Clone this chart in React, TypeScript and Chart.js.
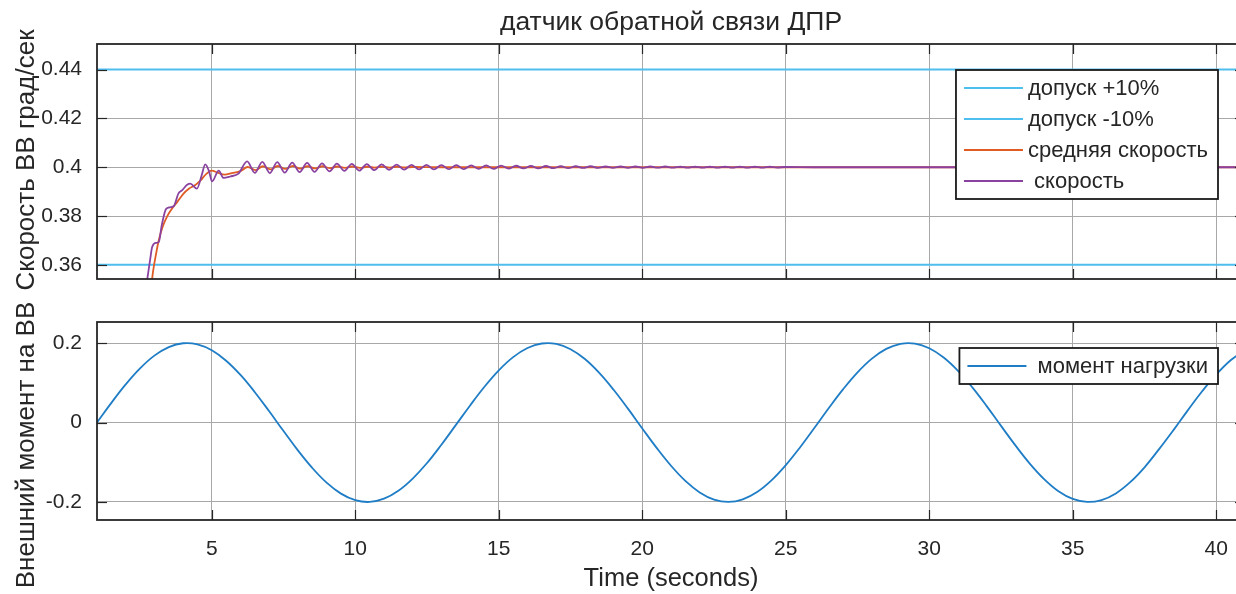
import React, { useEffect, useRef } from 'react';
import { Chart, registerables } from 'chart.js';

Chart.register(...registerables);

// ---------- text ----------
const TITLE = 'датчик обратной связи ДПР';
const Y_TITLE_TOP = 'Скорость ВВ град/сек';
const Y_TITLE_BOTTOM = 'Внешний момент на ВВ';
const X_TITLE = 'Time (seconds)';

// ---------- ticks ----------
const X_TICKS = [5, 10, 15, 20, 25, 30, 35, 40];
const Y_TICKS_TOP = [0.36, 0.38, 0.4, 0.42, 0.44];
const Y_TICKS_BOTTOM = [-0.2, 0, 0.2];

// ---------- tolerance lines ----------
const TOL_TIME = [1, 41];
const TOL_UPPER = [0.44, 0.44];
const TOL_LOWER = [0.36, 0.36];

// ---------- speed (скорость) ----------
const SPEED_TIME = [
  2.7, 2.85, 2.92, 3.05, 3.15, 3.26, 3.4, 3.5, 3.67, 3.84, 3.96, 4.14, 4.25, 4.48, 4.65, 4.77, 4.9, 5.01,
  5.24, 5.41, 5.64, 5.93, 6.23, 6.5, 6.76, 7.02, 7.28, 7.54, 7.8, 8.06, 8.32, 8.58, 8.84, 9.1, 9.36, 9.62,
  9.88, 10.14, 10.4, 10.66, 10.92, 11.18, 11.44, 11.7, 11.96, 12.22, 12.48, 12.74, 13.0, 13.26, 13.52,
  13.78, 14.04, 14.3, 14.56, 14.82, 15.08, 15.34, 15.6, 15.86, 16.12, 16.38, 16.64, 16.9, 17.16, 17.42,
  17.68, 17.94, 18.2, 18.46, 18.72, 18.98, 19.24, 19.5, 19.76, 20.02, 20.28, 20.54, 20.8, 21.06, 21.32,
  21.58, 21.84, 22.1, 22.36, 22.62, 22.88, 23.14, 23.4, 23.66, 23.92, 24.18, 24.44, 24.7, 24.96, 26, 28,
  30, 32, 34, 36, 38, 41,
];
const SPEED = [
  0.35, 0.362, 0.3672, 0.369, 0.3693, 0.3765, 0.3828, 0.3835, 0.384, 0.3893, 0.3905, 0.3928, 0.3933,
  0.3912, 0.3968, 0.4012, 0.3985, 0.3942, 0.3986, 0.3956, 0.3962, 0.3974, 0.4024, 0.3977, 0.4022, 0.3976,
  0.4021, 0.3978, 0.4019, 0.398, 0.4018, 0.3981, 0.4016, 0.3983, 0.4015, 0.3985, 0.4014, 0.3986, 0.4013,
  0.3988, 0.4012, 0.3989, 0.4011, 0.399, 0.401, 0.3991, 0.401, 0.3991, 0.4009, 0.3992, 0.4009, 0.3992,
  0.4008, 0.3993, 0.4008, 0.3993, 0.4007, 0.3994, 0.4006, 0.3995, 0.4005, 0.3995, 0.4005, 0.3996, 0.4004,
  0.3996, 0.4004, 0.3997, 0.4004, 0.3997, 0.4003, 0.3997, 0.4003, 0.3997, 0.4003, 0.3997, 0.4003, 0.3998,
  0.4003, 0.3998, 0.4002, 0.3998, 0.4002, 0.3998, 0.4002, 0.3998, 0.4002, 0.3998, 0.4002, 0.3998, 0.4002,
  0.3998, 0.4002, 0.3999, 0.4001, 0.4, 0.4, 0.4, 0.4, 0.4, 0.4, 0.4, 0.4,
];

// ---------- average speed (средняя скорость) ----------
const AVG_TIME = [
  2.88, 2.95, 3.05, 3.15, 3.3, 3.45, 3.6, 3.8, 4.0, 4.2, 4.4, 4.6, 4.8, 5.0, 5.2, 5.45, 5.7, 6.0, 6.25,
  6.52, 6.78, 7.04, 7.3, 7.56, 7.82, 8.08, 8.34, 8.6, 8.86, 9.12, 9.38, 9.64, 9.9, 10.16, 10.42, 10.68,
  10.94, 11.2, 11.46, 11.72, 12.0, 13, 15, 20, 25, 30, 35, 41,
];
const AVG_SPEED = [
  0.35, 0.357, 0.364, 0.37, 0.376, 0.38, 0.3828, 0.3858, 0.389, 0.3912, 0.3925, 0.3945, 0.3972, 0.3986,
  0.3978, 0.397, 0.3976, 0.3984, 0.4001, 0.3988, 0.4004, 0.3991, 0.4005, 0.3993, 0.4005, 0.3994, 0.4004,
  0.3995, 0.4004, 0.3996, 0.4003, 0.3997, 0.4003, 0.3997, 0.4002, 0.3998, 0.4002, 0.3998, 0.4002, 0.3999,
  0.4001, 0.4, 0.4, 0.4, 0.4, 0.4, 0.4, 0.4,
];

// ---------- load moment (момент нагрузки) ----------
const MOMENT_TIME = [
  1, 1.5, 2, 2.5, 3, 3.5, 4, 4.5, 5, 5.5, 6, 6.5, 7, 7.5, 8, 8.5, 9, 9.5, 10, 10.5, 11, 11.5, 12, 12.5,
  13, 13.5, 14, 14.5, 15, 15.5, 16, 16.5, 17, 17.5, 18, 18.5, 19, 19.5, 20, 20.5, 21, 21.5, 22, 22.5, 23,
  23.5, 24, 24.5, 25, 25.5, 26, 26.5, 27, 27.5, 28, 28.5, 29, 29.5, 30, 30.5, 31, 31.5, 32, 32.5, 33, 33.5,
  34, 34.5, 35, 35.5, 36, 36.5, 37, 37.5, 38, 38.5, 39, 39.5, 40, 40.5, 41,
];
const MOMENT = [
  0, 0.0495, 0.0959, 0.1363, 0.1683, 0.1898, 0.1995, 0.1968, 0.1819, 0.1556, 0.1197, 0.0763, 0.0282,
  -0.0216, -0.0702, -0.1143, -0.1514, -0.179, -0.1955, -0.1999, -0.1918, -0.1718, -0.1411, -0.102,
  -0.0559, -0.0066, 0.043, 0.09, 0.1314, 0.1646, 0.1876, 0.1989, 0.1979, 0.1845, 0.1597, 0.1249, 0.0824,
  0.0349, -0.015, -0.0639, -0.1088, -0.147, -0.1759, -0.194, -0.2, -0.1935, -0.1751, -0.1457, -0.1073,
  -0.0622, -0.0132, 0.0366, 0.084, 0.1263, 0.1608, 0.1853, 0.1981, 0.1987, 0.187, 0.1636, 0.1301, 0.0885,
  0.0413, -0.0085, -0.0576, -0.1033, -0.1424, -0.1729, -0.1923, -0.1999, -0.1952, -0.1785, -0.1502,
  -0.1127, -0.0677, -0.0198, 0.03, 0.0779, 0.121, 0.1567, 0.1826,
];

// ---------- style ----------
const FONT = "'Liberation Sans', Arial, Helvetica, sans-serif";
const TEXT = '#262626';
const GRID = '#a8a8a8';
const C_TOL = '#4DBEEE';
const C_AVG = '#DF5C24';
const C_SPEED = '#8A42A0';
const C_MOMENT = '#1F7DC6';

const pts = (xs: number[], ys: number[]) => xs.map((x, i) => ({ x, y: ys[i] }));

const framePlugin = {
  id: 'frame',
  afterDatasetsDraw(chart: any, _args: any, opts: any) {
    const { ctx, chartArea: a, scales } = chart;
    ctx.save();
    ctx.strokeStyle = TEXT;
    ctx.lineWidth = 1.2;
    const seg = (x1: number, y1: number, x2: number, y2: number) => {
      ctx.beginPath();
      ctx.moveTo(x1, y1);
      ctx.lineTo(x2, y2);
      ctx.stroke();
    };
    X_TICKS.forEach((v) => {
      const x = Math.round(scales.x.getPixelForValue(v)) + 0.5;
      seg(x, a.bottom, x, a.bottom - 10);
      seg(x, a.top, x, a.top + 10);
    });
    (opts.yTicks as number[]).forEach((v) => {
      const y = Math.round(scales.y.getPixelForValue(v)) + 0.5;
      seg(a.left, y, a.left + 10, y);
      seg(a.right, y, a.right - 10, y);
    });
    ctx.lineWidth = 1.8;
    ctx.strokeRect(a.left, a.top, a.right - a.left, a.bottom - a.top);
    ctx.restore();
  },
  afterDraw(chart: any, _args: any, opts: any) {
    const { ctx, chartArea: a } = chart;
    ctx.save();
    ctx.fillStyle = TEXT;
    // title
    if (opts.title) {
      ctx.font = `26.5px ${FONT}`;
      ctx.textAlign = 'center';
      ctx.textBaseline = 'middle';
      ctx.fillText(opts.title, (a.left + a.right) / 2, 23);
    }
    if (opts.xTitle) {
      ctx.font = `25.5px ${FONT}`;
      ctx.textAlign = 'center';
      ctx.textBaseline = 'middle';
      ctx.fillText(opts.xTitle, (a.left + a.right) / 2, 579);
    }
    if (opts.yTitle) {
      ctx.save();
      ctx.font = `26px ${FONT}`;
      ctx.textAlign = 'center';
      ctx.textBaseline = 'middle';
      ctx.translate(27, opts.yTitleY);
      ctx.rotate(-Math.PI / 2);
      ctx.fillText(opts.yTitle, 0, 0);
      ctx.restore();
    }
    // legend
    const ds = chart.data.datasets;
    ctx.font = `22px ${FONT}`;
    let maxW = 0;
    ds.forEach((d: any) => {
      maxW = Math.max(maxW, ctx.measureText(d.label).width);
    });
    const lineLen = 59;
    const w = 8 + lineLen + 5 + maxW + 10;
    const h = 18 + (ds.length - 1) * 31 + 18;
    const right = a.right - 27;
    const left = right - w;
    const top = a.top + 26;
    ctx.fillStyle = '#ffffff';
    ctx.fillRect(left, top, w, h);
    ctx.strokeStyle = '#1a1a1a';
    ctx.lineWidth = 1.8;
    ctx.strokeRect(left, top, w, h);
    ds.forEach((d: any, i: number) => {
      const y = top + 18 + i * 31;
      ctx.strokeStyle = d.borderColor;
      ctx.lineWidth = 1.8;
      ctx.beginPath();
      ctx.moveTo(left + 8, y);
      ctx.lineTo(left + 8 + lineLen, y);
      ctx.stroke();
      ctx.fillStyle = TEXT;
      ctx.textAlign = 'left';
      ctx.textBaseline = 'middle';
      ctx.fillText(d.label, left + 8 + lineLen + 5, y + 1);
    });
    ctx.restore();
  },
};

const tickFont = { family: FONT, size: 21 };

function xScale(showLabels: boolean) {
  return {
    type: 'linear',
    min: 1,
    max: 41,
    afterBuildTicks: (s: any) => {
      s.ticks = X_TICKS.map((v) => ({ value: v }));
    },
    ticks: {
      display: showLabels,
      padding: 17,
      font: tickFont,
      color: TEXT,
      maxRotation: 0,
      autoSkip: false,
      callback: (v: any) => String(v),
    },
    grid: { color: GRID, drawTicks: false, lineWidth: 1 },
    border: { display: false },
    afterFit: (s: any) => {
      s.height = showLabels ? 74 : 0;
    },
  };
}

function yScale(min: number, max: number, ticks: number[]) {
  return {
    type: 'linear',
    min,
    max,
    afterBuildTicks: (s: any) => {
      s.ticks = ticks.map((v) => ({ value: v }));
    },
    ticks: {
      padding: 15,
      font: tickFont,
      color: TEXT,
      autoSkip: false,
      callback: (v: any) => String(v),
    },
    grid: { color: GRID, drawTicks: false, lineWidth: 1 },
    border: { display: false },
    afterFit: (s: any) => {
      s.width = 97;
    },
  };
}

export default function App() {
  const topRef = useRef<HTMLCanvasElement>(null);
  const botRef = useRef<HTMLCanvasElement>(null);

  useEffect(() => {
    const common = { pointRadius: 0, fill: false };
    const top = new Chart(topRef.current as HTMLCanvasElement, {
      type: 'line',
      data: {
        datasets: [
          { ...common, label: 'допуск +10%', data: pts(TOL_TIME, TOL_UPPER), borderColor: C_TOL, borderWidth: 2, order: 4 },
          { ...common, label: 'допуск -10%', data: pts(TOL_TIME, TOL_LOWER), borderColor: C_TOL, borderWidth: 2, order: 3 },
          { ...common, label: 'средняя скорость', data: pts(AVG_TIME, AVG_SPEED), borderColor: C_AVG, borderWidth: 1.8, cubicInterpolationMode: 'monotone', order: 2 },
          { ...common, label: ' скорость', data: pts(SPEED_TIME, SPEED), borderColor: C_SPEED, borderWidth: 1.8, cubicInterpolationMode: 'monotone', order: 1 },
        ],
      } as any,
      options: {
        animation: false,
        responsive: false,
        events: [],
        layout: { padding: { top: 44, bottom: 315, left: 0, right: 15 } },
        scales: {
          x: xScale(false),
          y: yScale(0.3542, 0.4505, Y_TICKS_TOP),
        } as any,
        plugins: {
          legend: { display: false },
          tooltip: { enabled: false },
          frame: { yTicks: Y_TICKS_TOP, title: TITLE, yTitle: Y_TITLE_TOP, yTitleY: 160 },
        } as any,
      },
      plugins: [framePlugin as any],
    });

    const bottom = new Chart(botRef.current as HTMLCanvasElement, {
      type: 'line',
      data: {
        datasets: [
          { ...common, label: ' момент нагрузки', data: pts(MOMENT_TIME, MOMENT), borderColor: C_MOMENT, borderWidth: 1.8, tension: 0.4 },
        ],
      } as any,
      options: {
        animation: false,
        responsive: false,
        events: [],
        layout: { padding: { top: 322, bottom: 0, left: 0, right: 15 } },
        scales: {
          x: xScale(true),
          y: yScale(-0.2454, 0.253, Y_TICKS_BOTTOM),
        } as any,
        plugins: {
          legend: { display: false },
          tooltip: { enabled: false },
          frame: { yTicks: Y_TICKS_BOTTOM, xTitle: X_TITLE, yTitle: Y_TITLE_BOTTOM, yTitleY: 445 },
        } as any,
      },
      plugins: [framePlugin as any],
    });

    return () => {
      top.destroy();
      bottom.destroy();
    };
  }, []);

  return (
    <div
      style={{
        position: 'fixed',
        left: 0,
        top: 0,
        width: 1236,
        height: 594,
        overflow: 'hidden',
        background: '#ffffff',
      }}
    >
      <canvas ref={topRef} width={1260} height={594} style={{ position: 'absolute', left: 0, top: 0 }} />
      <canvas ref={botRef} width={1260} height={594} style={{ position: 'absolute', left: 0, top: 0 }} />
    </div>
  );
}
